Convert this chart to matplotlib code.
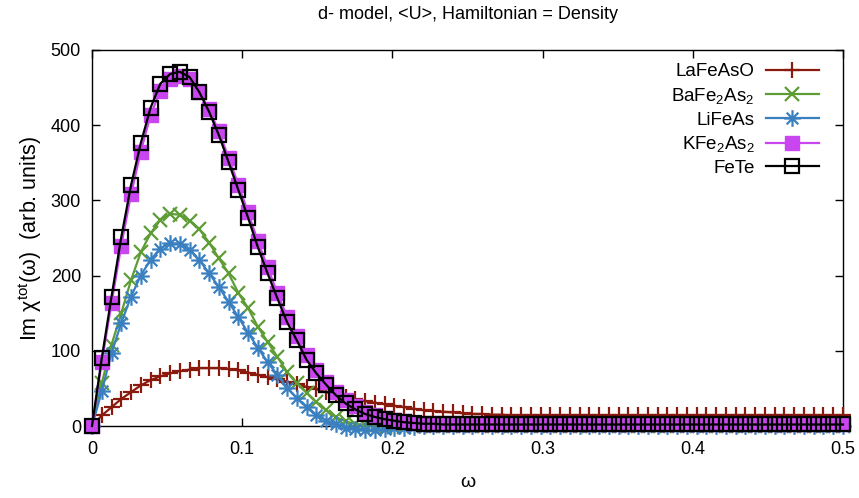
import numpy as np
import matplotlib.pyplot as plt
from matplotlib.path import Path

plt.rcParams['font.family'] = ['Liberation Sans', 'DejaVu Sans']
plt.rcParams['mathtext.fontset'] = 'custom'
plt.rcParams['mathtext.rm'] = 'Liberation Sans'
plt.rcParams['mathtext.it'] = 'Liberation Sans:italic'

# frequency grid (78 points from 0 to 0.5)
omega = np.linspace(0, 0.5, 78)

lafeaso = [0, 14, 25, 36, 45, 54, 61, 66, 70, 73, 75, 77, 77, 77, 76, 74, 71, 68, 65, 62,
           59, 56, 52, 49, 45, 42, 39, 36, 33, 31, 29, 27, 25, 23, 21, 20, 19, 18, 17, 16,
           16, 15, 15, 14, 14, 14, 14, 14, 14, 14, 14, 14, 14, 14, 14, 14, 14, 14, 14, 14,
           14, 14, 14, 14, 14, 14, 14, 14, 14, 14, 14, 14, 14, 14, 14, 14, 14, 14]
bafe2as2 = [0, 57, 108, 150, 194, 231, 256, 274, 282, 281, 273, 262, 244, 223, 203, 177, 157, 132, 112, 92,
            72, 57, 44, 32, 21, 12, 6, 3, 1, 0, -1, -1, -1, 0, 0, 0, 0, 0, 0, 0,
            0, 0, 0, 0, 0, 0, 0, 0, 0, 0, 0, 0, 0, 0, 0, 0, 0, 0, 0, 0,
            0, 0, 0, 0, 0, 0, 0, 0, 0, 0, 0, 0, 0, 0, 0, 0, 0, 0]
lifeas = [0, 46, 97, 137, 172, 200, 221, 236, 243, 242, 234, 221, 203, 185, 165, 145, 124, 104, 85, 68,
          51, 37, 25, 15, 7, 2, -2, -4, -5, -5, -4, -3, -2, -1, 0, 0, 0, 0, 0, 0,
          0, 0, 0, 0, 0, 0, 0, 0, 0, 0, 0, 0, 0, 0, 0, 0, 0, 0, 0, 0,
          0, 0, 0, 0, 0, 0, 0, 0, 0, 0, 0, 0, 0, 0, 0, 0, 0, 0]
kfe2as2 = [0, 85, 163, 240, 308, 365, 413, 446, 462, 465, 461, 444, 421, 392, 357, 321, 284, 246, 211, 177,
           145, 120, 94, 75, 59, 45, 34, 26, 19, 14, 10, 8, 6, 4, 3, 3, 2, 2, 2, 2,
           2, 2, 2, 2, 2, 2, 2, 2, 2, 2, 2, 2, 2, 2, 2, 2, 2, 2, 2, 2,
           2, 2, 2, 2, 2, 2, 2, 2, 2, 2, 2, 2, 2, 2, 2, 2, 2, 2]
fete = [0, 90, 172, 251, 320, 376, 423, 455, 468, 471, 464, 444, 418, 387, 351, 314, 277, 238, 203, 170,
        138, 114, 88, 70, 55, 41, 30, 22, 16, 12, 9, 7, 5, 4, 3, 3, 2, 2, 2, 2,
        2, 2, 2, 2, 2, 2, 2, 2, 2, 2, 2, 2, 2, 2, 2, 2, 2, 2, 2, 2,
        2, 2, 2, 2, 2, 2, 2, 2, 2, 2, 2, 2, 2, 2, 2, 2, 2, 2]

# gnuplot-like asterisk: plus and cross on top of each other
asterisk = Path([(-1, 0), (1, 0), (0, -1), (0, 1), (-0.7, -0.7), (0.7, 0.7), (-0.7, 0.7), (0.7, -0.7)],
                [Path.MOVETO, Path.LINETO] * 4)

fig, ax = plt.subplots(figsize=(8.59, 4.98), dpi=100)
fig.subplots_adjust(left=92 / 859, right=843 / 859, top=1 - 50 / 498, bottom=1 - 426 / 498)

lw = 1.6
ax.plot(omega, lafeaso, color='#8b1a0e', lw=lw, marker='+', ms=11, mew=1.6,
        label='LaFeAsO', clip_on=False, zorder=3)
ax.plot(omega, bafe2as2, color='#5e9c36', lw=lw, marker='x', ms=10.5, mew=1.6,
        label='BaFe$_2$As$_2$', clip_on=False, zorder=4)
ax.plot(omega, lifeas, color='#3a80c0', lw=lw, marker=asterisk, ms=12, mew=1.6,
        mfc='none', label='LiFeAs', clip_on=False, zorder=5)
ax.plot(omega, kfe2as2, color='#c845f0', lw=lw, marker='s', ms=10.5, mew=1.0,
        label='KFe$_2$As$_2$', clip_on=False, zorder=6)
ax.plot(omega, fete, color='black', lw=lw, marker='s', ms=10.5, mew=1.6, mfc='none',
        label='FeTe', clip_on=False, zorder=7)

ax.set_xlim(0, 0.5)
ax.set_ylim(0, 500)
ax.set_xticks([0, 0.1, 0.2, 0.3, 0.4, 0.5])
ax.set_xticklabels(['0', '0.1', '0.2', '0.3', '0.4', '0.5'])
ax.set_yticks([0, 100, 200, 300, 400, 500])
ax.tick_params(direction='in', length=6, width=1, top=True, right=True, labelsize=13)
ax.tick_params(axis='x', pad=11)
ax.tick_params(axis='y', pad=8)
for s in ax.spines.values():
    s.set_linewidth(1)

ax.set_title('d- model, <U>, Hamiltonian = Density', fontsize=13, pad=22)
ax.set_xlabel('ω', fontsize=14, labelpad=11)
ax.set_ylabel('Im χ$^{\\rm tot}$(ω)  (arb. units)', fontsize=15.5, labelpad=5)

ax.legend(loc='upper right', bbox_to_anchor=(0.98, 0.99), frameon=False, markerfirst=False,
          fontsize=13.5, handlelength=2.8, handletextpad=0.6, labelspacing=0.3, borderpad=0)

fig.savefig('out.png', dpi=100)
